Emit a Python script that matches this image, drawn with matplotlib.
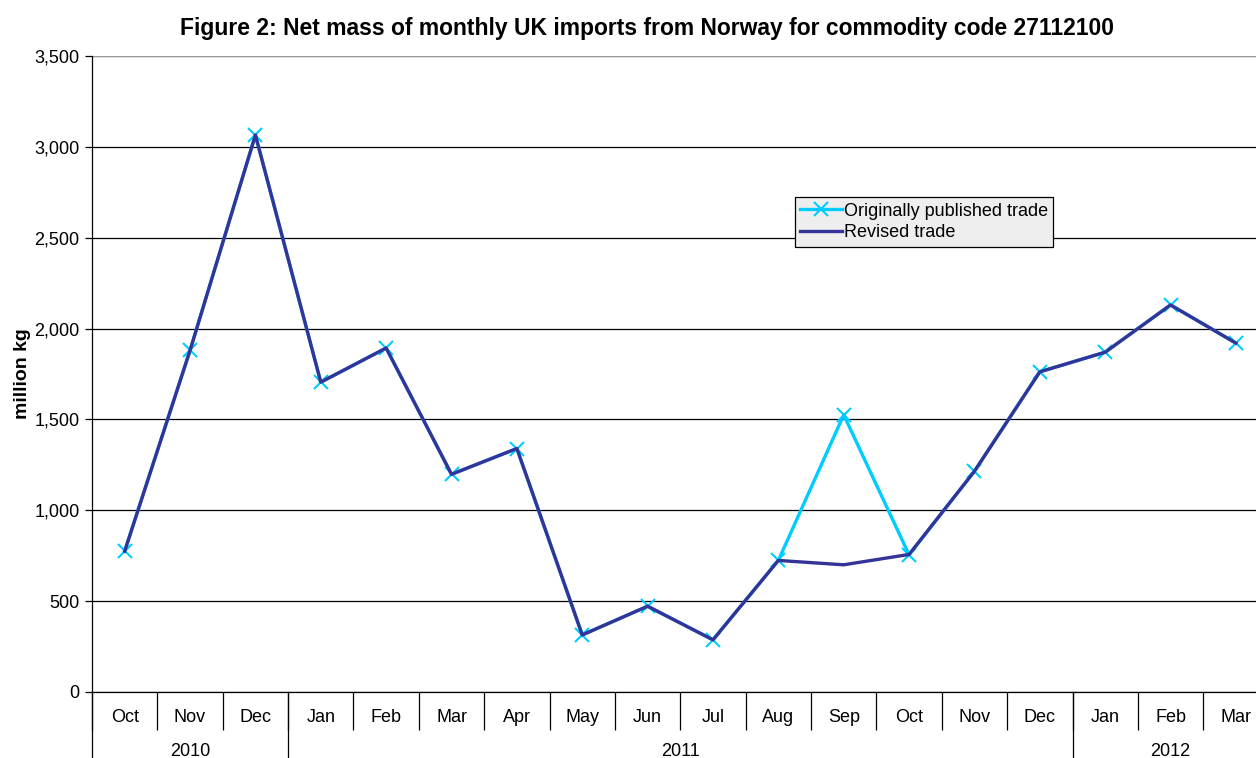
import numpy as np
import matplotlib.pyplot as plt
import matplotlib.transforms as mtransforms

plt.rcParams['font.family'] = ['Liberation Sans', 'DejaVu Sans']

months = ['Oct', 'Nov', 'Dec', 'Jan', 'Feb', 'Mar', 'Apr', 'May', 'Jun',
          'Jul', 'Aug', 'Sep', 'Oct', 'Nov', 'Dec', 'Jan', 'Feb', 'Mar']
years = ['2010', '2011', '2012']
year_spans = [(0, 2), (3, 14), (15, 17)]

original = [775, 1880, 3065, 1705, 1893, 1198, 1340, 314, 472, 287,
            724, 1525, 755, 1215, 1762, 1870, 2130, 1920]
revised = [775, 1880, 3065, 1705, 1893, 1198, 1340, 314, 472, 287,
           724, 700, 757, 1215, 1762, 1870, 2130, 1920]

fig = plt.figure(figsize=(12.56, 7.58), dpi=100)
ax = fig.add_axes([92 / 1256, 66 / 758, 1176.6 / 1256, 636 / 758])

x = np.arange(len(months))
ax.plot(x, original, color='#00CCFF', lw=2.4, marker='x', ms=10, mew=1.5,
        label='Originally published trade', zorder=3)
ax.plot(x, revised, color='#333399', lw=2.4, label='Revised trade', zorder=4)

ax.set_xlim(-0.5, len(months) - 0.5)
ax.set_ylim(0, 3500)
ax.set_yticks(np.arange(0, 3501, 500))
ax.set_yticklabels([f'{v:,}' for v in range(0, 3501, 500)], fontsize=13)
ax.yaxis.grid(True, color='black', lw=0.9)
ax.set_axisbelow(True)
ax.tick_params(axis='y', length=5, width=0.9, pad=4)

for s in ['top', 'right']:
    ax.spines[s].set_visible(False)
ax.spines['left'].set_linewidth(0.9)
ax.spines['bottom'].set_linewidth(0.9)
ax.axhline(3500, color='#999999', lw=1.5, zorder=1)

# month labels + separators
ax.set_xticks(x)
ax.set_xticklabels(months, fontsize=13)
ax.tick_params(axis='x', length=0, pad=12)
ax.set_xticks(np.arange(-0.5, len(months), 1), minor=True)
ax.tick_params(axis='x', which='minor', length=27, width=0.9, direction='out')

trans = mtransforms.blended_transform_factory(ax.transData, ax.transAxes)
for (a, b), yr in zip(year_spans, years):
    ax.text((a + b) / 2, -0.08, yr, transform=trans, ha='center', va='top',
            fontsize=13)
    ax.plot([a - 0.5, a - 0.5], [0, -0.12], transform=trans, color='black',
            lw=0.9, clip_on=False)

ax.set_ylabel('million kg', fontsize=14, fontweight='bold', labelpad=2)
fig.text(0.515, 0.962, 'Figure 2: Net mass of monthly UK imports from Norway for commodity code 27112100',
         ha='center', va='center', fontsize=16.5, fontweight='bold')

leg = ax.legend(loc='upper left', bbox_to_anchor=(0.5975, 0.778), fontsize=13,
                frameon=True, fancybox=False, edgecolor='black',
                facecolor='#EEEEEE', framealpha=1, borderpad=0.3,
                handlelength=2.3, handletextpad=0.1, labelspacing=0.25,
                borderaxespad=0)
leg.get_frame().set_linewidth(0.9)

fig.savefig('out.png', dpi=100)
